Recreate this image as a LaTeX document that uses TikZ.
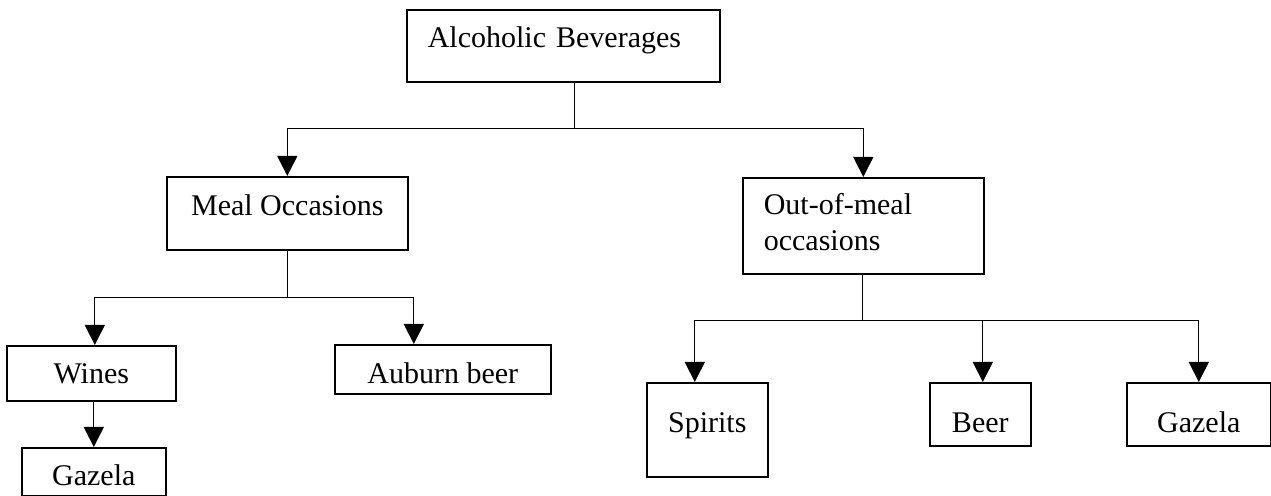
\documentclass[tikz,border=0pt]{standalone}
\usepackage{fontspec}
\setmainfont{Liberation Serif}
\usetikzlibrary{arrows.meta}

\tikzset{
  box/.style={draw, line width=0.8pt, anchor=north west, inner xsep=0pt, inner ysep=0pt,
    font=\fontsize{15}{18}\selectfont},
  arr/.style={line width=0.5pt, -{Triangle[length=10pt,width=10pt]}},
  link/.style={line width=0.5pt}
}

\begin{document}
\begin{tikzpicture}[x=0.5pt, y=-0.5pt]

  % Fix the page size
  \useasboundingbox (0,0) rectangle (1271,496);

  % Top level
  \node[box, align=left, inner xsep=10.5pt, text width=135.5pt,
        text height=19pt, text depth=17pt] (alc) at (406,9) {Alcoholic Beverages};

  % Second level
  \node[box, minimum width=120.5pt, text height=19.5pt, text depth=17pt]
        (meal) at (166,176) {Meal Occasions};
  \node[box, align=left, inner xsep=10.5pt, text width=99.5pt,
        text height=18.5pt, text depth=29.5pt] (out) at (742,177) {Out-of-meal\\occasions};

  % Meal occasions branch
  \node[box, minimum width=84.5pt, text height=19pt, text depth=8.5pt]
        (wines) at (6,345) {Wines};
  \node[box, minimum width=72pt, text height=19pt, text depth=5pt]
        (gazL) at (21,447) {Gazela};
  \node[box, minimum width=108pt, text height=19.5pt, text depth=5pt]
        (auburn) at (334,344) {Auburn beer};

  % Out-of-meal branch
  \node[box, minimum width=60.5pt, text height=25pt, text depth=22pt]
        (spirits) at (646,382) {Spirits};
  \node[box, minimum width=50.5pt, text height=25pt, text depth=6.5pt]
        (beer) at (929,382) {Beer};
  \node[box, minimum width=72pt, text height=25pt, text depth=6.5pt]
        (gazR) at (1126,382) {Gazela};

  % Junction points
  \coordinate (j1) at (574,129);
  \coordinate (j2) at (287,298);
  \coordinate (j3) at (862,321);

  % Connectors from the top box
  \draw[link] (alc.south -| j1) -- (j1);
  \draw[arr] (j1) -| (meal.north);
  \draw[arr] (j1) -| (out.north);

  % Connectors below meal occasions
  \draw[link] (meal.south -| j2) -- (j2);
  \draw[arr] (j2) -| ([xshift=1.75pt]wines.north);
  \draw[arr] (j2) -| ([xshift=-14.5pt]auburn.north);
  \draw[arr] (wines.south -| gazL.north) -- (gazL.north);

  % Connectors below out-of-meal occasions
  \draw[link] (out.south -| j3) -- (j3);
  \draw[arr] (j3) -| ([xshift=-6.25pt]spirits.north);
  \draw[arr] (j3) -| ([xshift=1.25pt]beer.north);
  \draw[arr] (j3) -| (gazR.north);

\end{tikzpicture}
\end{document}
